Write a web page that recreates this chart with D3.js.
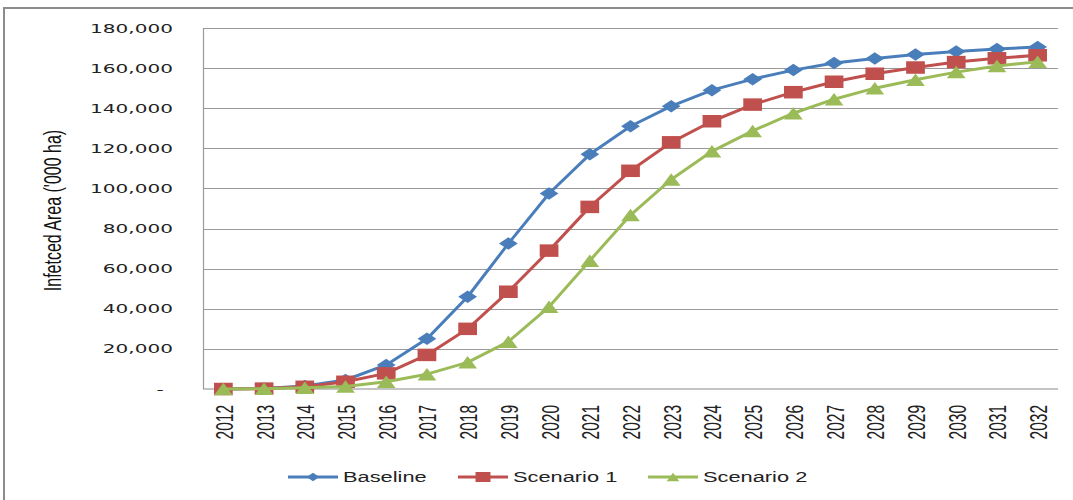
<!DOCTYPE html>
<html>
<head>
<meta charset="utf-8">
<script src="https://cdn.jsdelivr.net/npm/d3@7"></script>
<style>
  html, body { margin: 0; padding: 0; background: #fff; }
  svg { display: block; }
</style>
</head>
<body>
<svg id="chart" width="1073" height="500"></svg>
<script>
// Projected infected area, thousand hectares, per year
const years = ["2012","2013","2014","2015","2016","2017","2018","2019","2020","2021","2022",
               "2023","2024","2025","2026","2027","2028","2029","2030","2031","2032"];
const baseline  = [0, 300, 1500, 4500, 12000, 25000, 46000, 72500, 97500, 117000, 131000,
                   141000, 149000, 154500, 159000, 162500, 164800, 166800, 168300, 169500, 170500];
const scenario1 = [0, 200, 1100, 3600, 7800, 17000, 30000, 48500, 69000, 90800, 108800,
                   123000, 133500, 141800, 148000, 153200, 157200, 160300, 163000, 164900, 166400];
const scenario2 = [0, 100, 600, 1200, 3600, 7400, 13300, 23600, 41000, 64000, 86700,
                   104500, 118500, 128700, 137500, 144500, 150000, 154200, 158000, 161000, 163200];
const yTicks = [0, 20000, 40000, 60000, 80000, 100000, 120000, 140000, 160000, 180000];
const seriesNames = ["Baseline", "Scenario 1", "Scenario 2"];
const yTitle = "Infetced Area ('000 ha)";

const series = [
  { name: seriesNames[0], values: baseline,  color: "#4a7ebb", shape: "diamond" },
  { name: seriesNames[1], values: scenario1, color: "#c0504d", shape: "square" },
  { name: seriesNames[2], values: scenario2, color: "#9bbb59", shape: "triangle" }
];

const svg = d3.select("#chart");
const SX = 1.5;   // horizontal stretch of glyphs and markers

const plot = { left: 203, right: 1058, top: 28, bottom: 389 };

const x = d3.scalePoint().domain(years).range([plot.left, plot.right]).padding(0.5);
const y = d3.scaleLinear().domain([0, 180000]).range([plot.bottom, plot.top]);

// outer frame
svg.append("rect")
  .attr("x", 4).attr("y", 8).attr("width", 1090).attr("height", 520)
  .attr("fill", "none").attr("stroke", "#8c8c8c").attr("stroke-width", 2);

// horizontal gridlines
svg.append("g").selectAll("line").data(yTicks.filter(d => d > 0)).join("line")
  .attr("x1", plot.left).attr("x2", plot.right)
  .attr("y1", d => Math.round(y(d)) + 0.5).attr("y2", d => Math.round(y(d)) + 0.5)
  .attr("stroke", "#9a9a9a").attr("stroke-width", 1.2);

// category axis line
svg.append("line")
  .attr("x1", plot.left).attr("x2", plot.right)
  .attr("y1", plot.bottom).attr("y2", plot.bottom)
  .attr("stroke", "#c4c4c4").attr("stroke-width", 2);

// value axis line
svg.append("line")
  .attr("x1", plot.left + 0.5).attr("x2", plot.left + 0.5)
  .attr("y1", plot.top).attr("y2", plot.bottom)
  .attr("stroke", "#9a9a9a").attr("stroke-width", 1.2);

// value axis labels
const fmt = d3.format(",");
svg.append("g").selectAll("text").data(yTicks).join("text")
  .attr("transform", d => d === 0
      ? `translate(160,${y(d)}) scale(${SX * 1.07},1)`
      : `translate(173,${y(d)}) scale(${SX * 1.07},1)`)
  .attr("text-anchor", d => d === 0 ? "middle" : "end")
  .attr("dy", "0.36em")
  .attr("font-family", "DejaVu Sans, sans-serif")
  .attr("font-size", 12.5)
  .attr("fill", "#222")
  .text(d => d === 0 ? "-" : fmt(d));

// category labels, rotated
svg.append("g").selectAll("text").data(years).join("text")
  .attr("transform", d => `translate(${x(d) + 1},405) scale(${SX * 1.02},1) rotate(-90)`)
  .attr("text-anchor", "end")
  .attr("dy", "0.36em")
  .attr("font-family", "Liberation Sans, Arial, sans-serif")
  .attr("font-size", 15.5)
  .attr("fill", "#222")
  .text(d => d);

// value axis title
svg.append("text")
  .attr("transform", `translate(61,210.5) scale(${SX * 0.97},1) rotate(-90)`)
  .attr("text-anchor", "middle")
  .attr("font-family", "Liberation Sans, Arial, sans-serif")
  .attr("font-size", 16)
  .attr("fill", "#111")
  .text(yTitle);

// marker shapes (unit shapes, stretched horizontally)
function markerPath(shape, h) {
  const w = h * SX, hh = h / 2, hw = w / 2;
  if (shape === "diamond") return `M0,${-hh}L${hw},0L0,${hh}L${-hw},0Z`;
  if (shape === "square")  return `M${-hw},${-hh}H${hw}V${hh}H${-hw}Z`;
  return `M0,${-hh}L${hw},${hh}H${-hw}Z`;
}
const markerH = { diamond: 12.5, square: 12.5, triangle: 12.5 };

const line = d3.line().x((d, i) => x(years[i])).y(d => y(d));

series.forEach(s => {
  const g = svg.append("g");
  g.append("path")
    .attr("d", line(s.values))
    .attr("fill", "none")
    .attr("stroke", s.color)
    .attr("stroke-width", 3)
    .attr("stroke-linejoin", "round");
  g.selectAll("path.m").data(s.values).join("path")
    .attr("class", "m")
    .attr("transform", (d, i) => `translate(${x(years[i])},${y(d)})`)
    .attr("d", markerPath(s.shape, markerH[s.shape]))
    .attr("fill", s.color);
});

// legend
const legendItems = [
  { lx: 288, tx: 343 },
  { lx: 458, tx: 513 },
  { lx: 648, tx: 703 }
];
const legendY = 477;
series.forEach((s, i) => {
  const li = legendItems[i];
  const g = svg.append("g");
  g.append("line")
    .attr("x1", li.lx).attr("x2", li.lx + 50)
    .attr("y1", legendY).attr("y2", legendY)
    .attr("stroke", s.color).attr("stroke-width", 3);
  g.append("path")
    .attr("transform", `translate(${li.lx + 25},${legendY})`)
    .attr("d", markerPath(s.shape, s.shape === "square" ? 10 : 8.5))
    .attr("fill", s.color);
  g.append("text")
    .attr("transform", `translate(${li.tx},482) scale(${SX * 0.97},1)`)
    .attr("font-family", "Liberation Sans, Arial, sans-serif")
    .attr("font-size", 15)
    .attr("fill", "#222")
    .text(s.name);
});
</script>
</body>
</html>
